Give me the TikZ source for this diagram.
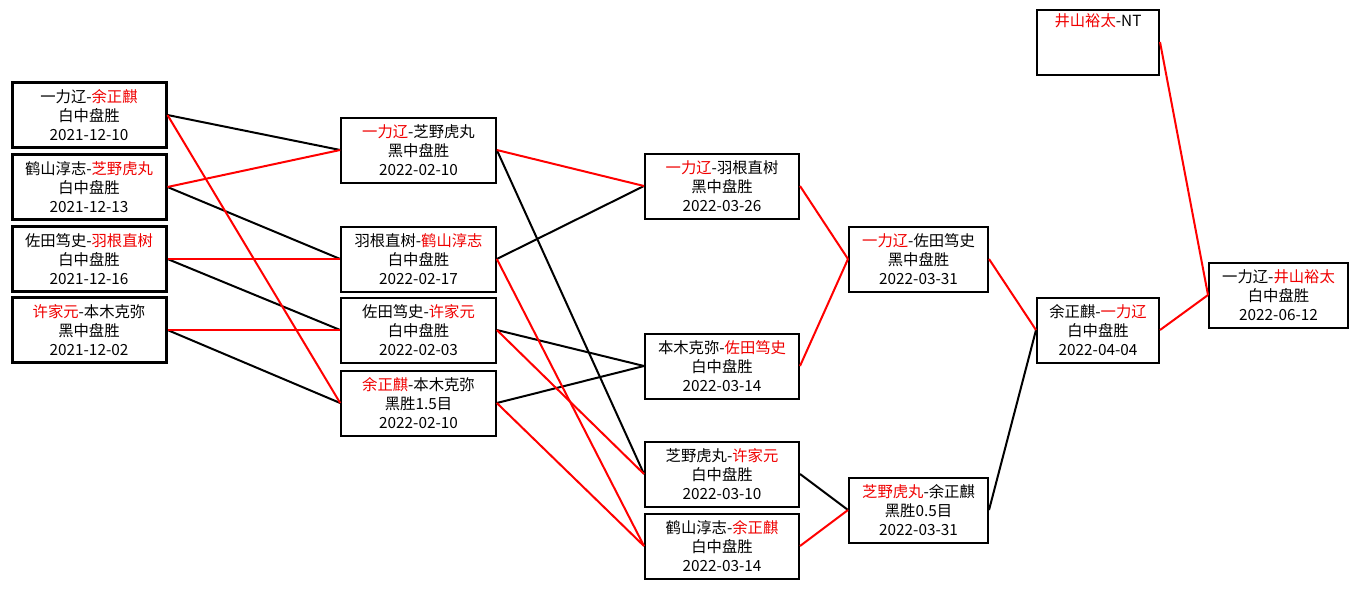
\documentclass[tikz,border=0pt]{standalone}
\usepackage{xcolor}
\usepackage{fontspec}
\setmainfont{Noto Sans CJK SC}
\usepackage{tikz}
\definecolor{winred}{HTML}{F00000}
\definecolor{linered}{HTML}{FF0000}
\newcommand\winner[1]{\textcolor{winred}{#1}}

\begin{document}
\begin{tikzpicture}[x=0.75pt,y=-0.75pt,
      box/.style={rectangle,draw,line width=1.5pt,fill=white,
                  minimum height=48.75pt,inner sep=0pt,
                  align=center,font=\fontsize{11.5pt}{14.25pt}\selectfont},
      seedbox/.style={box,line width=2.25pt,minimum width=115.5pt},
      widebox/.style={box,minimum width=116pt},
      midbox/.style={box,minimum width=104.25pt},
      narrowbox/.style={box,minimum width=91.5pt},
      won/.style={draw=linered,line width=1.5pt},
      lost/.style={draw=black,line width=1.5pt}]
    \fill[white] (0,0) rectangle (1358,589);
    \useasboundingbox (0,0) rectangle (1358,589);
    %% ── Column 1 ────────────────────────────────────────────
    \node[seedbox] (a1) at (89,115) {一力辽-\winner{余正麒}\\白中盘胜\\2021-12-10};
    \node[seedbox] (a2) at (89,187) {鹤山淳志-\winner{芝野虎丸}\\白中盘胜\\2021-12-13};
    \node[seedbox] (a3) at (89,259) {佐田笃史-\winner{羽根直树}\\白中盘胜\\2021-12-16};
    \node[seedbox] (a4) at (89,330) {\winner{许家元}-本木克弥\\黑中盘胜\\2021-12-02};
    %% ── Column 2 ────────────────────────────────────────────
    \node[widebox] (b1) at (418.5,150) {\winner{一力辽}-芝野虎丸\\黑中盘胜\\2022-02-10};
    \node[widebox] (b2) at (418.5,259) {羽根直树-\winner{鹤山淳志}\\白中盘胜\\2022-02-17};
    \node[widebox] (b3) at (418.5,330) {佐田笃史-\winner{许家元}\\白中盘胜\\2022-02-03};
    \node[widebox] (b4) at (418.5,403) {\winner{余正麒}-本木克弥\\黑胜1.5目\\2022-02-10};
    %% ── Column 3 ────────────────────────────────────────────
    \node[seedbox,line width=1.5pt] (c1) at (722,186) {\winner{一力辽}-羽根直树\\黑中盘胜\\2022-03-26};
    \node[seedbox,line width=1.5pt] (c2) at (722,366) {本木克弥-\winner{佐田笃史}\\白中盘胜\\2022-03-14};
    \node[seedbox,line width=1.5pt] (c3) at (722,474) {芝野虎丸-\winner{许家元}\\白中盘胜\\2022-03-10};
    \node[seedbox,line width=1.5pt] (c4) at (722,546) {鹤山淳志-\winner{余正麒}\\白中盘胜\\2022-03-14};
    %% ── Column 4 ────────────────────────────────────────────
    \node[midbox] (d1) at (918.5,259) {\winner{一力辽}-佐田笃史\\黑中盘胜\\2022-03-31};
    \node[midbox] (d2) at (918.5,510) {\winner{芝野虎丸}-余正麒\\黑胜0.5目\\2022-03-31};
    %% ── Column 5 and final ──────────────────────────────────
    \node[narrowbox] (e1) at (1098,42) {\winner{井山裕太}-NT\\\strut\\\strut};
    \node[narrowbox] (e2) at (1098,330) {余正麒-\winner{一力辽}\\白中盘胜\\2022-04-04};
    \node[midbox] (final) at (1278.5,295) {一力辽-\winner{井山裕太}\\白中盘胜\\2022-06-12};
    %% ── Losers' lines ───────────────────────────────────────
    \draw[lost] (a1.east)--(b1.west);
    \draw[lost] (a2.east)--(b2.west);
    \draw[lost] (a3.east)--(b3.west);
    \draw[lost] (a4.east)--(b4.west);
    \draw[lost] (b1.east)--(c3.west);
    \draw[lost] (b2.east)--(c1.west);
    \draw[lost] (b3.east)--(c2.west);
    \draw[lost] (b4.east)--(c2.west);
    \draw[lost] (c3.east)--(d2.west);
    \draw[lost] (d2.east)--(e2.west);
    %% ── Winners' lines ──────────────────────────────────────
    \draw[won] (a1.east)--(b4.west);
    \draw[won] (a2.east)--(b1.west);
    \draw[won] (a3.east)--(b2.west);
    \draw[won] (a4.east)--(b3.west);
    \draw[won] (b1.east)--(c1.west);
    \draw[won] (b2.east)--(c4.west);
    \draw[won] (b3.east)--(c3.west);
    \draw[won] (b4.east)--(c4.west);
    \draw[won] (c1.east)--(d1.west);
    \draw[won] (c2.east)--(d1.west);
    \draw[won] (c4.east)--(d2.west);
    \draw[won] (d1.east)--(e2.west);
    \draw[won] (e1.east)--(final.west);
    \draw[won] (e2.east)--(final.west);
  \end{tikzpicture}
\end{document}
